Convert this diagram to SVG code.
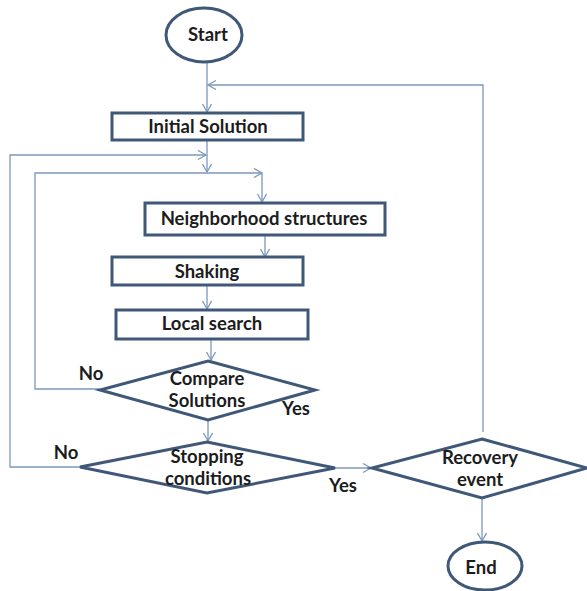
<svg xmlns="http://www.w3.org/2000/svg" width="587" height="591" viewBox="0 0 587 591">
<style>
.shape{fill:#ffffff;stroke:#3f5878;stroke-width:3}
.conn{fill:none;stroke:#7c98bc;stroke-width:1.3}
text{font-family:Lato,"Liberation Sans",Arial,sans-serif;font-size:18.5px;font-weight:bold;fill:#1c1c1c;text-anchor:middle}
</style>
<defs>
<marker id="arr" markerUnits="userSpaceOnUse" markerWidth="12" markerHeight="12" refX="9" refY="5" orient="auto">
<path d="M1,0.5 L9,5 L1,9.5" fill="none" stroke="#7c98bc" stroke-width="1.3"/>
</marker>
</defs>
<rect width="587" height="591" fill="#ffffff"/>
<g id="connectors">
<path class="conn" d="M207,62 L207,112" marker-end="url(#arr)"/>
<path class="conn" d="M483,432 L483,85 L208,85" marker-end="url(#arr)"/>
<path class="conn" d="M207,140 L207,172" marker-end="url(#arr)"/>
<path class="conn" d="M80,467 L10,467 L10,155 L206,155" marker-end="url(#arr)"/>
<path class="conn" d="M100,389 L35,389 L35,173 L262,173" marker-end="url(#arr)"/>
<path class="conn" d="M262,173 L262,202" marker-end="url(#arr)"/>
<path class="conn" d="M265,235 L265,257" marker-end="url(#arr)"/>
<path class="conn" d="M207,285 L207,309" marker-end="url(#arr)"/>
<path class="conn" d="M211,339 L211,360" marker-end="url(#arr)"/>
<path class="conn" d="M208,420 L208,441" marker-end="url(#arr)"/>
<path class="conn" d="M335,468 L371,468" marker-end="url(#arr)"/>
<path class="conn" d="M482,498 L482,541" marker-end="url(#arr)"/>
</g>
<g id="start">
<ellipse class="shape" cx="204" cy="35" rx="38" ry="27"/>
<text x="208" y="41">Start</text>
</g>
<g id="initial-solution">
<rect class="shape" x="112" y="113" width="191" height="27"/>
<text x="208" y="133">Initial Solution</text>
</g>
<g id="neighborhood-structures">
<rect class="shape" x="145" y="203" width="240" height="32"/>
<text x="264" y="225">Neighborhood structures</text>
</g>
<g id="shaking">
<rect class="shape" x="112" y="257" width="191" height="28"/>
<text x="207" y="278">Shaking</text>
</g>
<g id="local-search">
<rect class="shape" x="116" y="310" width="192" height="29"/>
<text x="212" y="330">Local search</text>
</g>
<g id="compare-solutions">
<polygon class="shape" points="208,361 315,390 208,420 100,390"/>
<text x="207" y="385">Compare</text>
<text x="207" y="407">Solutions</text>
<text x="91" y="380">No</text>
<text x="296" y="415">Yes</text>
</g>
<g id="stopping-conditions">
<polygon class="shape" points="207,442 335,468 207,493 80,467"/>
<text x="207" y="463">Stopping</text>
<text x="208" y="485">conditions</text>
<text x="66" y="459">No</text>
<text x="343" y="492">Yes</text>
</g>
<g id="recovery-event">
<polygon class="shape" points="482,439 587,468 482,498 372,468"/>
<text x="480" y="464">Recovery</text>
<text x="480" y="486">event</text>
</g>
<g id="end">
<ellipse class="shape" cx="485" cy="566" rx="37" ry="24"/>
<text x="481" y="574">End</text>
</g>
</svg>
